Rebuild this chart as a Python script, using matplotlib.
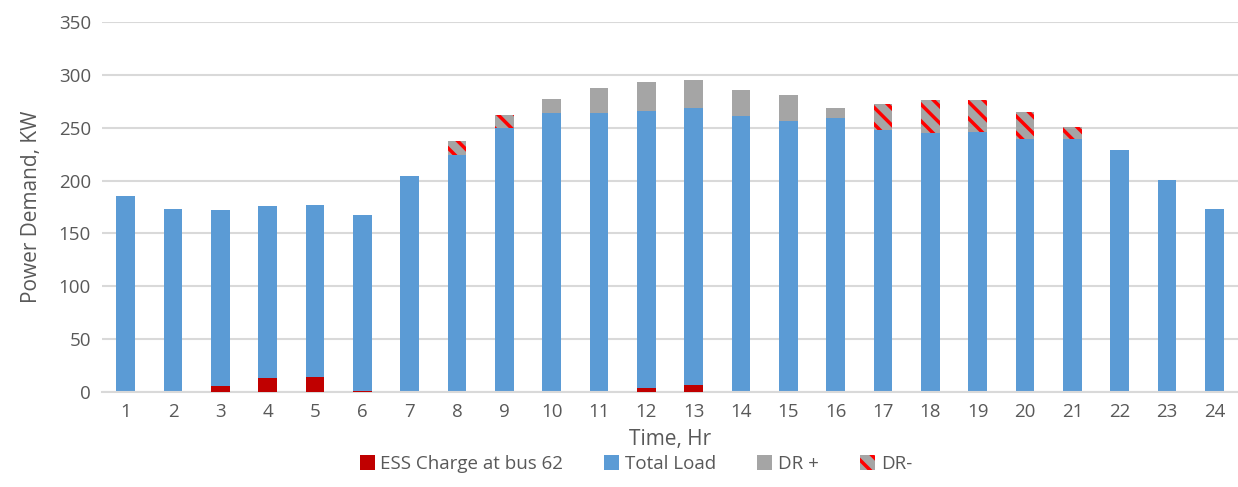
import matplotlib.pyplot as plt
import numpy as np

plt.rcParams['font.family'] = ['Open Sans', 'DejaVu Sans']
plt.rcParams['hatch.linewidth'] = 2.5

hours = list(range(1, 25))
total_load = [185, 173, 172, 176, 177, 167, 204, 224, 250, 264, 264, 266,
              269, 261, 256, 259, 248, 245, 246, 239, 239, 229, 201, 173]
ess_charge = [0, 0, 6, 13, 14, 1, 0, 0, 0, 0, 0, 4,
              7, 0, 0, 0, 0, 0, 0, 0, 0, 0, 0, 0]
dr_plus = [0, 0, 0, 0, 0, 0, 0, 0, 0, 13, 24, 27,
           26, 25, 25, 10, 0, 0, 0, 0, 0, 0, 0, 0]
dr_minus = [0, 0, 0, 0, 0, 0, 0, 13, 12, 0, 0, 0,
            0, 0, 0, 0, 24, 31, 30, 26, 12, 0, 0, 0]

x = np.array(hours)
load = np.array(total_load)
plus = np.array(dr_plus)

fig = plt.figure(figsize=(12.38, 4.87), dpi=100)
ax = fig.add_axes([0.0824, 0.195, 0.9176, 0.7598])

w = 0.4
ax.bar(x, total_load, w, color='#5B9BD5', zorder=2, label='Total Load')
ax.bar(x, ess_charge, w, color='#C00000', zorder=3, label='ESS Charge at bus 62')
ax.bar(x, dr_plus, w, bottom=load, color='#A5A5A5', zorder=2, label='DR +')
ax.bar(x, dr_minus, w, bottom=load + plus, color='#A5A5A5', edgecolor='#FF0000',
       hatch='\\\\', linewidth=0, zorder=2, label='DR-')

ax.set_xlim(0.5, 24.5)
ax.set_ylim(0, 350)
ax.set_xticks(hours)
ax.set_yticks(range(0, 351, 50))
ax.tick_params(length=0, labelsize=13.5, labelcolor='#595959', pad=8)
ax.grid(axis='y', color='#D9D9D9', linewidth=1.5, zorder=0)
ax.set_axisbelow(True)
for s in ['top', 'right', 'left']:
    ax.spines[s].set_visible(False)
ax.spines['bottom'].set_color('#D9D9D9')
ax.spines['bottom'].set_linewidth(1.5)

ax.set_xlabel('Time, Hr', fontsize=15, color='#595959', labelpad=6)
ax.set_ylabel('Power Demand, KW', fontsize=15, color='#595959', labelpad=12)

h, l = ax.get_legend_handles_labels()
order = [1, 0, 2, 3]
ax.legend([h[i] for i in order], [l[i] for i in order], loc='upper center',
          bbox_to_anchor=(0.47, -0.125), ncol=4, frameon=False, fontsize=13.5,
          labelcolor='#595959', handlelength=0.8, handleheight=0.8,
          handletextpad=0.3, columnspacing=2.2)

fig.savefig('out.png', dpi=100)
